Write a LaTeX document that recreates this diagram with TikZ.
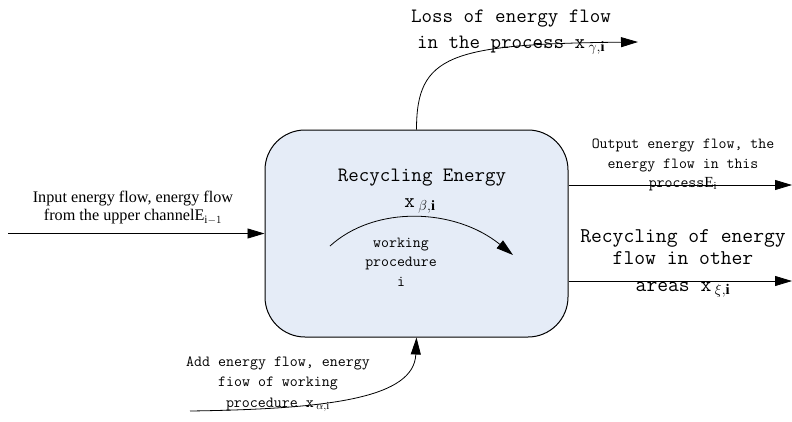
\documentclass[tikz,border=0pt]{standalone}
\usepackage{amsmath}
\usepackage{fontspec}
\setmainfont{Liberation Serif}
\usetikzlibrary{positioning, shapes, arrows.meta, calc}
\definecolor{boxfill}{HTML}{E5ECF7}

\begin{document}
\begin{tikzpicture}[x=1pt, y=-1pt, line width=0.8pt,
    flow/.style={-{Triangle[length=17pt, width=10pt]}},
    bigtext/.style={font=\ttfamily\fontsize{20.4}{26}\selectfont, align=center, inner sep=0pt},
    smalltext/.style={font=\ttfamily\fontsize{15.4}{19.5}\selectfont, align=center, inner sep=0pt},
    romantext/.style={font=\fontsize{16.2}{18}\selectfont, align=center, inner sep=0pt}]
  \useasboundingbox (0,0) rectangle (792,421);

  % Nodes
  \node[draw, line width=1pt, fill=boxfill, rounded corners=40pt,
        minimum width=303pt, minimum height=207pt] (box) at (416.5,233.5) {};
  \node[bigtext] (title) at (422,178) {Recycling Energy};
  \node[bigtext] (beta) at (420,206) {x\,$_{\beta,\mathbf{i}}$};
  \node[smalltext] (proc) at (401,262) {working\\procedure\\i};

  \node[bigtext] (loss) at (511,32) {Loss of energy flow\\in the process x\,$_{\gamma,\mathbf{i}}$};
  \node[smalltext] (out) at (683,165) {Output energy flow, the\\energy flow in this\\process{\rmfamily E}$_{\mathrm{i}}$};
  \node[bigtext, font=\ttfamily\fontsize{21}{22}\selectfont] (other) at (683,247) {Recycling of energy\\flow in other};
  \node[bigtext, font=\ttfamily\fontsize{21}{22}\selectfont] (areas) at (683,290) {areas x\,$_{\xi,\mathbf{i}}$};
  \node[romantext] (inlab) at (133,208) {Input energy flow, energy flow\\from the upper channel$\mathrm{E}_{\mathrm{i}-1}$};
  \node[smalltext, font=\ttfamily\fontsize{15.5}{20.5}\selectfont] (add) at (278,384) {Add energy flow, energy\\fiow of working\\procedure x\,$_{\alpha,\mathrm{i}}$};

  \coordinate (inStart) at (8,233.5);
  \coordinate (lossEnd) at (638,42);
  \coordinate (outEnd) at (792,185);
  \coordinate (otherEnd) at (792,281);
  \coordinate (addStart) at (190,411);
  \coordinate (arcStart) at (330,246);
  \coordinate (arcEnd) at (513,255);

  % Arrows
  \draw[flow] (inStart) -- (box.west);
  \draw[flow] (box.north) .. controls (416.5,55) and (450,44) .. (lossEnd);
  \draw[flow] (box.east |- outEnd) -- (outEnd);
  \draw[flow] (box.east |- otherEnd) -- (otherEnd);
  \draw[flow] (addStart) .. controls (330,409) and (414,398) .. (box.south);
  \draw[flow] (arcStart) .. controls (375,205) and (455,208) .. (arcEnd);
\end{tikzpicture}
\end{document}
